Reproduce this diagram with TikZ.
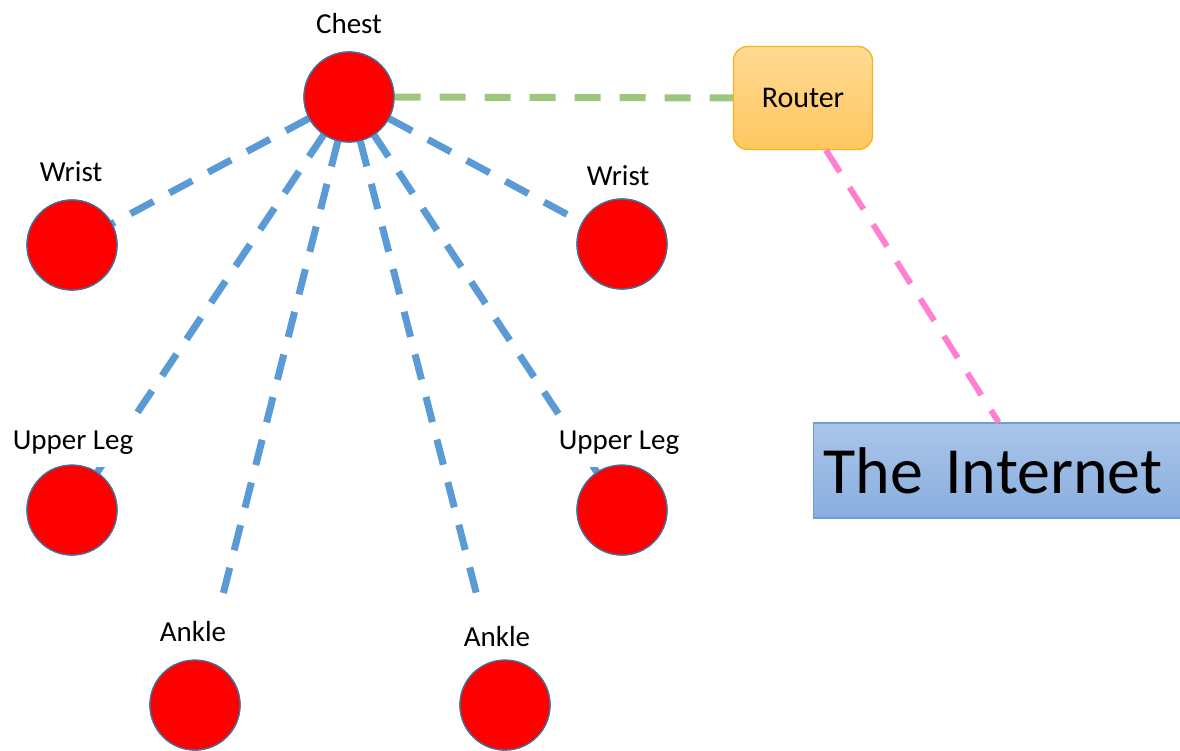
\documentclass[tikz,border=0pt]{standalone}
\usepackage{fontspec}
\setmainfont{Carlito}
\usetikzlibrary{calc}
\definecolor{sensorred}{HTML}{FF0000}
\definecolor{sensoredge}{HTML}{41719C}
\definecolor{linkblue}{HTML}{5B9BD5}
\definecolor{linkgreen}{HTML}{9DC67F}
\definecolor{linkpink}{HTML}{FF80D2}
\definecolor{routertop}{HTML}{FFDA94}
\definecolor{routerbot}{HTML}{FFC75F}
\definecolor{routeredge}{HTML}{F5B41C}
\definecolor{nettop}{HTML}{AAC5E8}
\definecolor{netbot}{HTML}{88AEE0}
\definecolor{netedge}{HTML}{6F9ED6}
\tikzset{
  sensor/.style={circle, minimum size=90pt, inner sep=0pt, fill=sensorred, draw=sensoredge, line width=1.3pt},
  lbl/.style={font=\fontsize{29}{35}\selectfont, inner sep=2pt},
  masklbl/.style={lbl, fill=white},
  bodylink/.style={draw=linkblue, line width=7pt, dash pattern=on 26pt off 18pt},
  uplink/.style={draw=linkgreen, line width=7pt, dash pattern=on 26pt off 19pt},
  netlink/.style={draw=linkpink, line width=6pt, dash pattern=on 26pt off 18pt},
}
\begin{document}
\begin{tikzpicture}[x=1pt,y=-1pt]
\useasboundingbox (0,0) rectangle (1180,751);
% sensor positions (drawn later, on top of the links)
\coordinate (chestc) at (349,97);
\node[sensor] (chest) at (chestc) {};
\node[sensor] (lwrist) at (72,245) {};
\node[sensor] (rwrist) at (622,244) {};
\node[sensor] (lleg) at (72,510) {};
\node[sensor] (rleg) at (622,510) {};
\node[sensor] (lankle) at (195,705) {};
\node[sensor] (rankle) at (505,705) {};
% router and internet
\node[rounded corners=14pt, minimum width=139pt, minimum height=103pt,
      top color=routertop, bottom color=routerbot, draw=routeredge, line width=1.3pt,
      font=\fontsize{30}{36}\selectfont] (router) at (803,98) {Router};
\node[anchor=west, text width=352pt, inner xsep=10pt, inner ysep=0pt, align=left,
      minimum height=95pt, top color=nettop, bottom color=netbot, draw=netedge, line width=1.3pt,
      font=\fontsize{66}{78}\selectfont] (net) at (813,470.5) {The Internet};
% links
\path[bodylink] (chest) -- (lwrist);
\path[bodylink] (chest) -- (rwrist);
\path[bodylink] (chest) -- (lleg);
\path[bodylink] (chest) -- (rleg);
\path[bodylink] (chest) -- (lankle);
\path[bodylink] (chest) -- (rankle);
\path[uplink] (chest.east) -- (router.west);
\path[netlink] ([xshift=23pt]router.south) -- ([xshift=-1pt]net.north);
% labels (white boxes hide the ends of the links)
\node[lbl] (lchest) at (349,24) {Chest};
\node[lbl] (llwrist) at (71,172) {Wrist};
\node[lbl] (lrwrist) at (618,176) {Wrist};
\node[masklbl, minimum height=48pt] (llleg) at (73,443) {Upper Leg};
\node[masklbl, minimum height=48pt] (lrleg) at (619,443) {Upper Leg};
\node[masklbl, minimum height=64pt, minimum width=90pt] (llankle) at (193,632) {Ankle};
\node[masklbl, minimum height=64pt, minimum width=90pt] (lrankle) at (497,637) {Ankle};
% sensors on top
\node[sensor] at (chest) {};
\node[sensor] at (lwrist) {};
\node[sensor] at (rwrist) {};
\node[sensor] at (lleg) {};
\node[sensor] at (rleg) {};
\node[sensor] at (lankle) {};
\node[sensor] at (rankle) {};
\end{tikzpicture}
\end{document}
